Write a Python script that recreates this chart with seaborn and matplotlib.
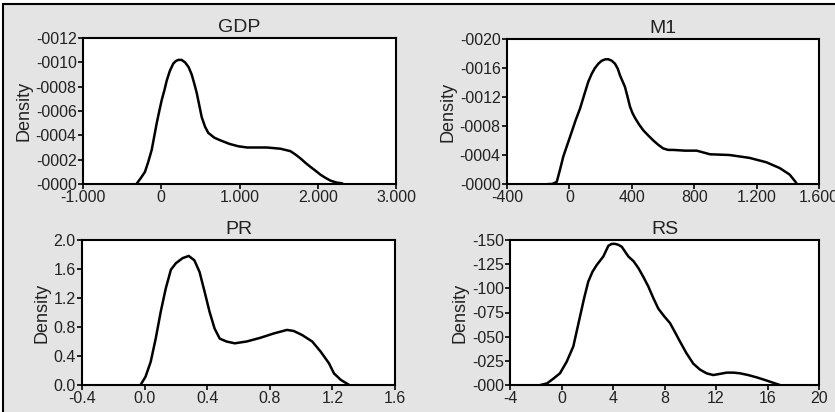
import matplotlib
matplotlib.use("Agg")
import matplotlib.pyplot as plt
from matplotlib.patches import Rectangle
import seaborn as sns
import pandas as pd

# ---- data (kernel density curves) ----
gdp_x = [-317, -260, -208, -167, -122, -90, -58, -25, 6, 40, 70, 110, 154, 185, 218, 260,
         304, 350, 389, 420, 453, 485, 517, 560, 601, 680, 751, 870, 985, 1100, 1181,
         1352, 1523, 1651, 1720, 1780, 1850, 1908, 1970, 2036, 2100, 2165, 2240, 2314]
gdp_y = [0.0, 0.00005, 0.0001, 0.00018, 0.00028, 0.00039, 0.0005, 0.0006, 0.00069, 0.00077,
         0.00085, 0.00093, 0.00099, 0.00101, 0.00102, 0.00102, 0.001, 0.00096, 0.0009,
         0.00083, 0.00075, 0.00065, 0.00055, 0.00047, 0.00042, 0.00038, 0.00036, 0.00033,
         0.00031, 0.0003, 0.0003, 0.0003, 0.00029, 0.00027, 0.00024, 0.00021, 0.00017,
         0.00014, 0.00011, 0.000076, 0.00005, 0.000027, 0.000012, 0.000005]

m1_x = [-133, -110, -81, -60, -39, -12, 15, 40, 68, 95, 121, 143, 164, 186, 207, 230, 250,
        272, 292, 310, 324, 340, 356, 372, 388, 404, 421, 447, 474, 505, 538, 570, 602,
        634, 666, 740, 816, 901, 1026, 1155, 1262, 1348, 1412, 1455]
m1_y = [0.0, 0.0, 0.00003, 0.0002, 0.00038, 0.00055, 0.00072, 0.00088, 0.00104, 0.00123,
        0.00141, 0.00152, 0.0016, 0.00166, 0.0017, 0.00172, 0.00172, 0.0017, 0.00166,
        0.00159, 0.0015, 0.00142, 0.00134, 0.00121, 0.00107, 0.00098, 0.00091, 0.00082,
        0.00074, 0.00067, 0.0006, 0.00054, 0.00049, 0.00047, 0.00047, 0.00046, 0.00046,
        0.00041, 0.0004, 0.00036, 0.0003, 0.00022, 0.00013, 0.000014]

pr_x = [-0.026, 0.006, 0.039, 0.071, 0.103, 0.135, 0.168, 0.2, 0.243, 0.282, 0.318, 0.351,
        0.383, 0.415, 0.447, 0.48, 0.523, 0.576, 0.652, 0.738, 0.824, 0.91, 0.953, 1.006,
        1.071, 1.125, 1.178, 1.21, 1.254, 1.308]
pr_y = [0.0, 0.115, 0.32, 0.64, 1.01, 1.33, 1.59, 1.68, 1.75, 1.78, 1.72, 1.56, 1.29, 1.01,
        0.78, 0.64, 0.6, 0.575, 0.6, 0.65, 0.71, 0.76, 0.745, 0.69, 0.6, 0.46, 0.3, 0.16,
        0.07, 0.0]

rs_x = [-1.64, -1.12, -0.6, -0.12, 0.4, 0.92, 1.44, 1.76, 2.08, 2.4, 2.73, 3.25, 3.64,
        3.9, 4.16, 4.42, 4.68, 5.19, 5.6, 5.97, 6.35, 6.74, 7.13, 7.52, 7.98, 8.43, 8.8,
        9.2, 9.7, 10.24, 10.75, 11.28, 11.79, 12.3, 12.83, 13.35, 13.86, 14.5, 15.16,
        15.8, 16.4, 16.96]
rs_y = [0.0, 0.0017, 0.0069, 0.0121, 0.024, 0.04, 0.071, 0.09, 0.107, 0.117, 0.124, 0.133,
        0.144, 0.146, 0.146, 0.145, 0.143, 0.133, 0.128, 0.121, 0.112, 0.102, 0.09, 0.079,
        0.071, 0.064, 0.055, 0.045, 0.033, 0.022, 0.016, 0.012, 0.0103, 0.0115, 0.0128,
        0.0128, 0.0121, 0.0103, 0.0079, 0.0052, 0.0025, 0.0]

# ---- tick labels ----
gdp_xticks = [-1000, 0, 1000, 2000, 3000]
gdp_xlabels = ["-1.000", "0", "1.000", "2.000", "3.000"]
gdp_yticks = [0, 0.0002, 0.0004, 0.0006, 0.0008, 0.0010, 0.0012]
gdp_ylabels = ["-0000", "-0002", "-0004", "-0006", "-0008", "-0010", "-0012"]

m1_xticks = [-400, 0, 400, 800, 1200, 1600]
m1_xlabels = ["-400", "0", "400", "800", "1.200", "1.600"]
m1_yticks = [0, 0.0004, 0.0008, 0.0012, 0.0016, 0.0020]
m1_ylabels = ["-0000", "-0004", "-0008", "-0012", "-0016", "-0020"]

pr_xticks = [-0.4, 0.0, 0.4, 0.8, 1.2, 1.6]
pr_xlabels = ["-0.4", "0.0", "0.4", "0.8", "1.2", "1.6"]
pr_yticks = [0.0, 0.4, 0.8, 1.2, 1.6, 2.0]
pr_ylabels = ["0.0", "0.4", "0.8", "1.2", "1.6", "2.0"]

rs_xticks = [-4, 0, 4, 8, 12, 16, 20]
rs_xlabels = ["-4", "0", "4", "8", "12", "16", "20"]
rs_yticks = [0, 0.025, 0.05, 0.075, 0.1, 0.125, 0.15]
rs_ylabels = ["-000", "-025", "-050", "-075", "-100", "-125", "-150"]

titles = ["GDP", "M1", "PR", "RS"]

sns.set_theme(style="ticks")
plt.rcParams["font.family"] = ["Liberation Sans", "DejaVu Sans"]
plt.rcParams["axes.linewidth"] = 1.5
plt.rcParams["xtick.major.width"] = 1.2
plt.rcParams["ytick.major.width"] = 1.2
plt.rcParams["xtick.major.size"] = 3.5
plt.rcParams["ytick.major.size"] = 3.5
plt.rcParams["xtick.major.pad"] = 1.0
plt.rcParams["ytick.major.pad"] = 1.0

W, H = 835, 412
fig = plt.figure(figsize=(W / 100, H / 100), dpi=100, facecolor="white")
bg = Rectangle((2.5 / W, -0.02), 1.05, 1 - 3.5 / H + 0.02,
               transform=fig.transFigure, facecolor="#e4e4e4",
               edgecolor="black", linewidth=1.5, zorder=-10)
fig.add_artist(bg)

def px_axes(l, r, t, b):
    return fig.add_axes([l / W, 1 - b / H, (r - l) / W, (b - t) / H])

panels = [
    (px_axes(83, 396, 38, 184), gdp_x, gdp_y, gdp_xticks, gdp_xlabels, gdp_yticks, gdp_ylabels, (-1000, 3000), (0, 0.0012)),
    (px_axes(507, 819, 39, 184), m1_x, m1_y, m1_xticks, m1_xlabels, m1_yticks, m1_ylabels, (-400, 1600), (0, 0.0020)),
    (px_axes(82, 395, 240, 385), pr_x, pr_y, pr_xticks, pr_xlabels, pr_yticks, pr_ylabels, (-0.4, 1.6), (0, 2.0)),
    (px_axes(510, 819, 240, 385), rs_x, rs_y, rs_xticks, rs_xlabels, rs_yticks, rs_ylabels, (-4, 20), (0, 0.15)),
]

for (ax, xs, ys, xt, xl, yt, yl, xlim, ylim), title in zip(panels, titles):
    df = pd.DataFrame({"x": xs, "y": ys})
    sns.lineplot(data=df, x="x", y="y", ax=ax, color="black", linewidth=1.8,
                 sort=False, estimator=None)
    ax.set_facecolor("white")
    ax.set_xlim(*xlim)
    ax.set_ylim(*ylim)
    ax.set_xticks(xt)
    ax.set_xticklabels(xl, fontsize=11.5, color="#222222")
    ax.set_yticks(yt)
    ax.set_yticklabels(yl, fontsize=11.5, color="#222222")
    ax.set_xlabel("")
    ax.set_ylabel("Density", fontsize=13, labelpad=2, color="#222222")
    ax.set_title(title, fontsize=14, pad=4, color="#222222")
    ax.tick_params(direction="out", colors="black", labelcolor="#222222")
    for s in ax.spines.values():
        s.set_visible(True)
        s.set_color("black")

fig.savefig("out.png", dpi=100, facecolor=fig.get_facecolor())
